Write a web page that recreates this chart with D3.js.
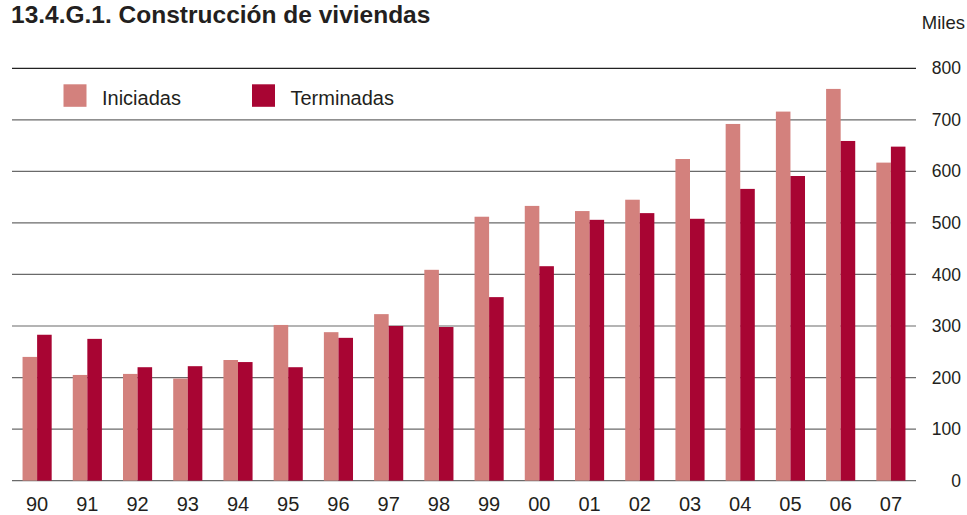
<!DOCTYPE html>
<html>
<head>
<meta charset="utf-8">
<script src="https://cdn.jsdelivr.net/npm/d3@7"></script>
<style>
  html, body { margin: 0; padding: 0; background: #fff; }
  svg { display: block; font-family: "Liberation Sans", Arial, sans-serif; }
</style>
</head>
<body>
<svg id="chart" width="967" height="515"></svg>
<script>
const years = ["90","91","92","93","94","95","96","97","98","99","00","01","02","03","04","05","06","07"];
const iniciadas = [240,205,207,198,234,302,288,323,409,512,533,523,545,624,692,716,760,617];
const terminadas = [283,275,220,222,230,220,277,300,298,356,416,506,519,508,566,591,659,648];
const yTicks = [0,100,200,300,400,500,600,700,800];
const seriesNames = ["Iniciadas","Terminadas"];
const colors = ["#d3817d","#a80533"];
const titleText = "13.4.G.1. Construcción de viviendas";
const unitText = "Miles";

(function () {
const svg = d3.select("#chart");
const pLeft = 12, pRight = 916, pTop = 68.3, pBottom = 480.6;

const x = d3.scaleBand().domain(years).range([pLeft, pRight]).paddingInner(0.42).paddingOuter(0.21);
const xs = d3.scaleBand().domain(seriesNames).range([0, x.bandwidth()]).padding(0);
const y = d3.scaleLinear().domain([0, 800]).range([pBottom, pTop]);

// title
svg.append("text").attr("x", 11).attr("y", 22.5)
  .attr("font-size", 24.5).attr("font-weight", "bold").attr("fill", "#231f20")
  .text(titleText);

// unit
svg.append("text").attr("x", 965).attr("y", 29).attr("text-anchor", "end")
  .attr("font-size", 18.5).attr("fill", "#231f20").text(unitText);

// gridlines
svg.append("g").selectAll("line").data(yTicks).join("line")
  .attr("x1", pLeft).attr("x2", pRight)
  .attr("y1", d => y(d)).attr("y2", d => y(d))
  .attr("stroke", d => d === 800 ? "#222" : "#6a6a6a")
  .attr("stroke-width", 1.2);

// y axis labels (right)
const yAxis = d3.axisRight(y).tickValues(yTicks).tickSize(0).tickPadding(0);
const ya = svg.append("g").attr("transform", `translate(961,0)`).call(yAxis);
ya.select(".domain").remove();
ya.selectAll("text").attr("text-anchor", "end").attr("font-size", 17.5)
  .attr("font-family", "Liberation Sans, Arial, sans-serif").attr("fill", "#231f20");

// bars
const data = years.map((yr, i) => ({ yr, vals: [iniciadas[i], terminadas[i]] }));
const groups = svg.append("g").selectAll("g").data(data).join("g")
  .attr("transform", d => `translate(${x(d.yr)},0)`);
groups.selectAll("rect").data(d => d.vals.map((v, j) => ({ s: seriesNames[j], v, j })))
  .join("rect")
  .attr("x", d => xs(d.s))
  .attr("width", xs.bandwidth())
  .attr("y", d => y(d.v))
  .attr("height", d => y(0) - y(d.v))
  .attr("fill", d => colors[d.j]);

// x axis labels
const xAxis = d3.axisBottom(x).tickSize(0).tickPadding(0);
const xa = svg.append("g").attr("transform", `translate(0,${pBottom + 16})`).call(xAxis);
xa.select(".domain").remove();
xa.selectAll("text").attr("font-size", 20)
  .attr("font-family", "Liberation Sans, Arial, sans-serif").attr("fill", "#231f20");

// legend
const legendX = [63.5, 252];
const lg = svg.append("g").selectAll("g").data(seriesNames).join("g")
  .attr("transform", (d, i) => `translate(${legendX[i]},84.3)`);
lg.append("rect").attr("width", 23).attr("height", 22.5).attr("fill", (d, i) => colors[i]);
lg.append("text").attr("x", 38.5).attr("y", 20.7).attr("font-size", 20)
  .attr("fill", "#231f20").text(d => d);
})();
</script>
</body>
</html>
